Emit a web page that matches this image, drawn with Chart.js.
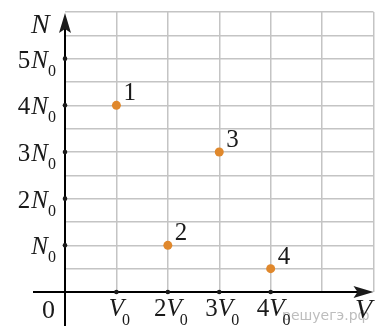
<!DOCTYPE html>
<html>
<head>
<meta charset="utf-8">
<script src="https://cdn.jsdelivr.net/npm/chart.js@4/dist/chart.umd.min.js"></script>
<style>
    html, body { margin: 0; padding: 0; background: #fff; }
    #wrap { width: 378px; height: 326px; }
</style>
</head>
<body>
<div id="wrap"><canvas id="chart"></canvas></div>
<script>
// states of the gas: volume in V0, number of molecules in N0
const pointNames = ['1', '2', '3', '4'];
const volumes = [1, 2, 3, 4];
const counts = [4, 1, 3, 0.5];

// axis tick labels (coefficient before N0 / V0)
const yTickValues = [1, 2, 3, 4, 5];
const yTickCoefs = ['', '2', '3', '4', '5'];
const xTickValues = [1, 2, 3, 4];
const xTickCoefs = ['', '2', '3', '4'];

const SERIF = '"Liberation Serif", "DejaVu Serif", serif';

// draws axes with arrows, labels with subscripts and the point numbers
const axesPlugin = {
    id: 'axes',
    afterDatasetsDraw(chart) {
        const ctx = chart.ctx;
        const xs = chart.scales.x;
        const ys = chart.scales.y;
        const x0 = xs.getPixelForValue(0);
        const y0 = ys.getPixelForValue(0);
        const area = chart.chartArea;

        ctx.save();

        // watermark
        ctx.fillStyle = '#bdbdbd';
        ctx.font = '14px "DejaVu Sans", sans-serif';
        ctx.textAlign = 'left';
        ctx.textBaseline = 'alphabetic';
        ctx.fillText('решуегэ.рф', 282, 320);

        ctx.strokeStyle = '#000';
        ctx.fillStyle = '#1a1a1a';
        ctx.lineWidth = 2;

        // y axis
        ctx.beginPath();
        ctx.moveTo(x0, 326);
        ctx.lineTo(x0, area.top + 8);
        ctx.stroke();
        ctx.beginPath();
        ctx.moveTo(x0, area.top + 1);
        ctx.lineTo(x0 + 6, area.top + 21);
        ctx.lineTo(x0, area.top + 17);
        ctx.lineTo(x0 - 6, area.top + 21);
        ctx.closePath();
        ctx.fill();

        // x axis
        ctx.beginPath();
        ctx.moveTo(33, y0);
        ctx.lineTo(area.right - 8, y0);
        ctx.stroke();
        ctx.beginPath();
        ctx.moveTo(area.right, y0);
        ctx.lineTo(area.right - 20, y0 - 6);
        ctx.lineTo(area.right - 16, y0);
        ctx.lineTo(area.right - 20, y0 + 6);
        ctx.closePath();
        ctx.fill();

        // y ticks and labels
        ctx.textBaseline = 'alphabetic';
        yTickValues.forEach((v, i) => {
            const py = ys.getPixelForValue(v);
            ctx.beginPath();
            ctx.arc(x0, py, 2.3, 0, Math.PI * 2);
            ctx.fill();

            ctx.font = 'italic 25px ' + SERIF;
            const wN = ctx.measureText('N').width;
            ctx.textAlign = 'right';
            ctx.fillText('N', 48, py + 9);
            ctx.font = '25px ' + SERIF;
            ctx.fillText(yTickCoefs[i], 48 - wN - 1, py + 9);
            ctx.font = '16px ' + SERIF;
            ctx.textAlign = 'left';
            ctx.fillText('0', 48, py + 17);
        });

        // x ticks and labels
        xTickValues.forEach((v, i) => {
            const px = xs.getPixelForValue(v);
            ctx.beginPath();
            ctx.arc(px, y0, 2.3, 0, Math.PI * 2);
            ctx.fill();

            ctx.font = '25px ' + SERIF;
            const wc = ctx.measureText(xTickCoefs[i]).width;
            ctx.font = 'italic 25px ' + SERIF;
            const wV = ctx.measureText('V').width;
            const left = px - (wc + wV) / 2;
            ctx.textAlign = 'left';
            ctx.font = '25px ' + SERIF;
            ctx.fillText(xTickCoefs[i], left, 316);
            ctx.font = 'italic 25px ' + SERIF;
            ctx.fillText('V', left + wc, 316);
            ctx.font = '16px ' + SERIF;
            ctx.fillText('0', left + wc + wV - 2, 325);
        });

        // origin and axis titles
        ctx.font = '26px ' + SERIF;
        ctx.textAlign = 'left';
        ctx.fillText('0', 42, 318);
        ctx.font = 'italic 28px ' + SERIF;
        ctx.fillText('N', 31, 33);
        ctx.fillText('V', 355, 318);

        // point numbers
        ctx.font = '25px ' + SERIF;
        const meta = chart.getDatasetMeta(0);
        meta.data.forEach((pt, i) => {
            ctx.fillText(pointNames[i], pt.x + 7, pt.y - 5);
        });

        ctx.restore();
    }
};

const gridColor = c => (c.tick && c.tick.value === 0) ? 'rgba(0,0,0,0)' : '#c4c4c4';

new Chart(document.getElementById('chart'), {
    type: 'scatter',
    data: {
        datasets: [{
            data: volumes.map((v, i) => ({ x: v, y: counts[i] })),
            backgroundColor: '#e0882c',
            borderWidth: 0,
            pointRadius: 4.5,
            pointHoverRadius: 4.5
        }]
    },
    options: {
        responsive: true,
        maintainAspectRatio: false,
        animation: false,
        events: [],
        layout: { padding: { left: 65, right: 4, top: 12, bottom: 34 } },
        plugins: { legend: { display: false }, tooltip: { enabled: false } },
        scales: {
            x: {
                type: 'linear', min: 0, max: 6,
                ticks: { stepSize: 1, display: false },
                grid: { color: gridColor, lineWidth: 1.5, drawTicks: false },
                border: { display: false },
                afterFit: s => { s.height = 0; }
            },
            y: {
                type: 'linear', min: 0, max: 6,
                ticks: { stepSize: 0.5, display: false },
                grid: { color: gridColor, lineWidth: 1.5, drawTicks: false },
                border: { display: false },
                afterFit: s => { s.width = 0; }
            }
        }
    },
    plugins: [axesPlugin]
});
</script>
</body>
</html>
